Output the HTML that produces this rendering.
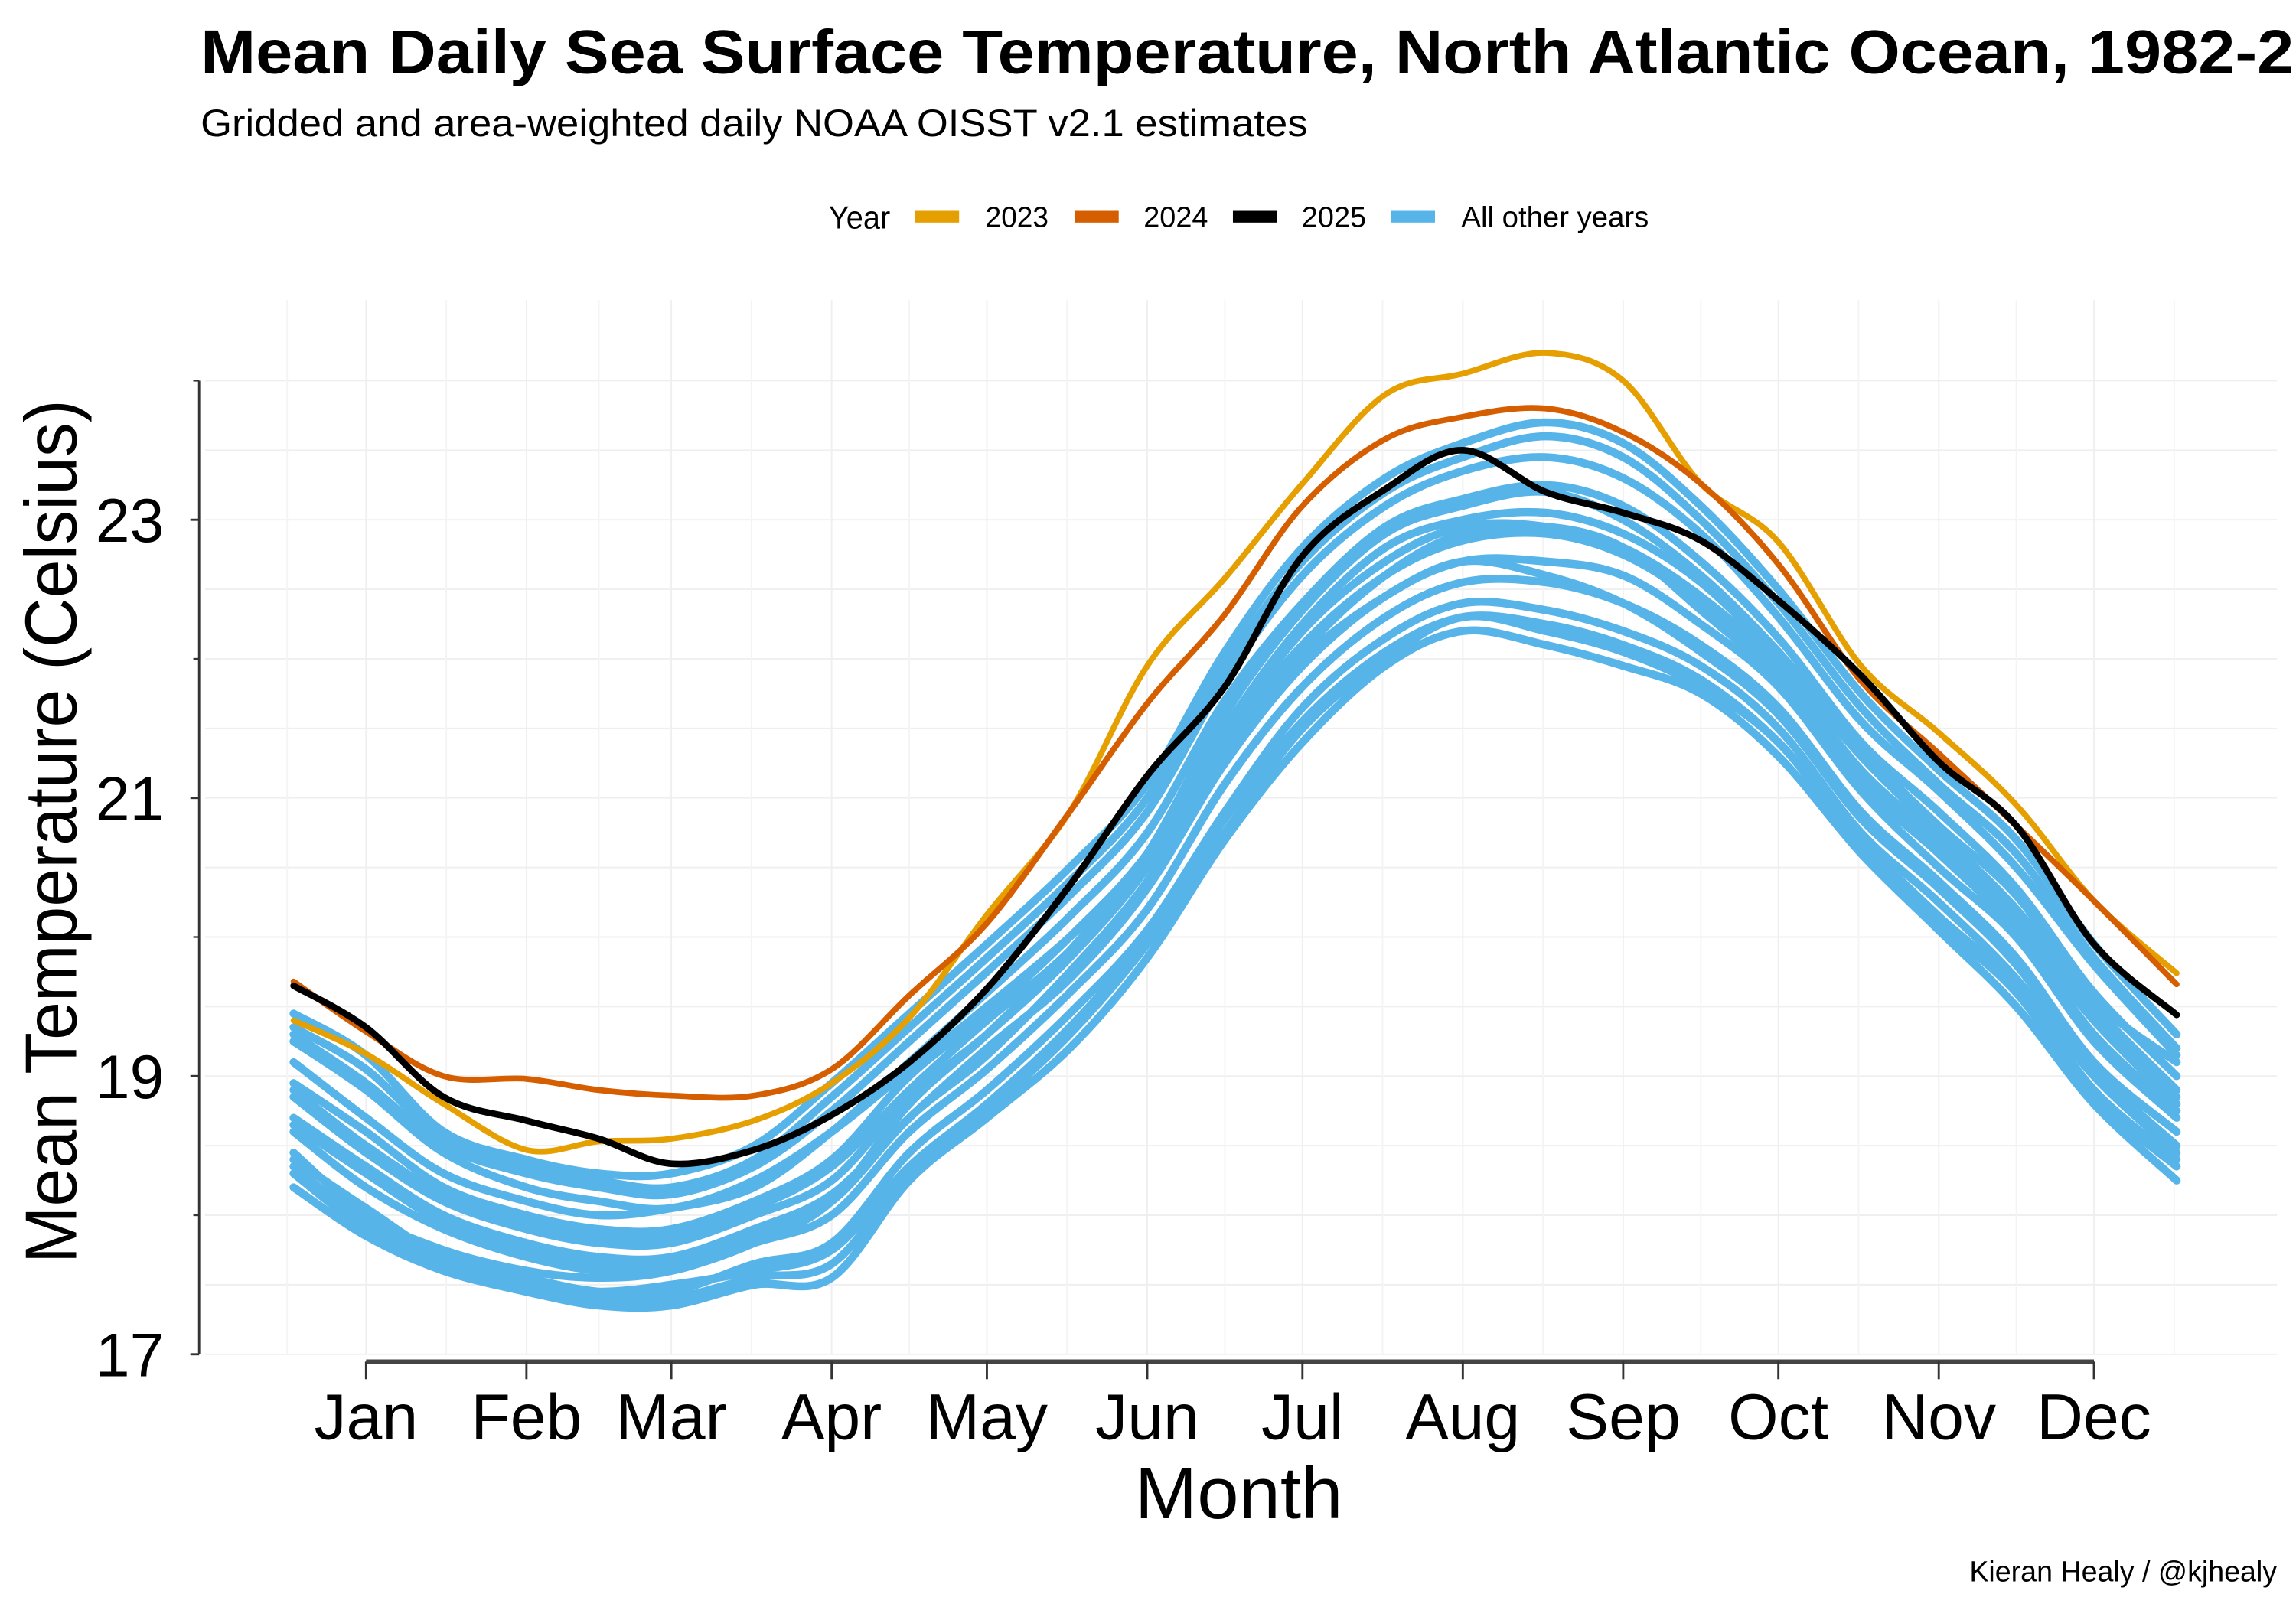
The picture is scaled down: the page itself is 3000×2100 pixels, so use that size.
<!DOCTYPE html>
<html><head><meta charset="utf-8">
<style>
html,body{margin:0;padding:0;background:#fff;}
svg{display:block;}
text{font-family:"Liberation Sans Narrow","Liberation Sans",sans-serif;fill:#000;}
</style></head>
<body>
<svg id="chart" width="3000" height="2100" viewBox="0 0 1568 1097.6" xmlns="http://www.w3.org/2000/svg">
  <rect x="0" y="0" width="1568" height="1098" fill="#fff"/>
  <text x="137" y="50" font-size="42" font-weight="bold" textLength="1505" lengthAdjust="spacingAndGlyphs">Mean Daily Sea Surface Temperature, North Atlantic Ocean, 1982-2025</text>
  <text x="137" y="93" font-size="26" textLength="756" lengthAdjust="spacingAndGlyphs">Gridded and area-weighted daily NOAA OISST v2.1 estimates</text>
  <g>
    <text x="566" y="156" font-size="22" textLength="42" lengthAdjust="spacingAndGlyphs">Year</text>
    <rect x="625" y="144" width="30" height="8" fill="#E69F00"/>
    <text x="673" y="155" font-size="20" textLength="43" lengthAdjust="spacingAndGlyphs">2023</text>
    <rect x="734" y="144" width="30" height="8" fill="#D55E00"/>
    <text x="781" y="155" font-size="20" textLength="44" lengthAdjust="spacingAndGlyphs">2024</text>
    <rect x="842" y="144" width="30" height="8" fill="#000"/>
    <text x="889" y="155" font-size="20" textLength="44" lengthAdjust="spacingAndGlyphs">2025</text>
    <rect x="950" y="144" width="30" height="8" fill="#56B4E9"/>
    <text x="998" y="155" font-size="20" textLength="128" lengthAdjust="spacingAndGlyphs">All other years</text>
  </g>
  <g id="grid"></g>
  <g id="series"></g>
  <g id="axes"></g>
  <text x="846" y="1037" font-size="50" text-anchor="middle" textLength="142" lengthAdjust="spacingAndGlyphs">Month</text>
  <text transform="translate(52,568) rotate(-90)" font-size="50" text-anchor="middle" textLength="590" lengthAdjust="spacingAndGlyphs">Mean Temperature (Celsius)</text>
  <text x="1555" y="1080" font-size="20" text-anchor="end" textLength="210" lengthAdjust="spacingAndGlyphs">Kieran Healy / @kjhealy</text>
</svg>
<script>
const days = [1,15,30,46,60,74,90,105,120,135,151,166,181,196,212,227,243,258,273,288,304,319,334,349,365];
const monthLabels = ["Jan","Feb","Mar","Apr","May","Jun","Jul","Aug","Sep","Oct","Nov","Dec"];
const monthTickDays = [15,46,74,105,135,166,196,227,258,288,319,349];
const yTicks = [17,19,21,23];
const yMinorTicks = [18,20,22,24];
const y2023 = [19.4,19.16,18.8,18.47,18.53,18.55,18.68,18.95,19.42,20.16,20.9,21.95,22.58,23.26,23.9,24.05,24.2,24.0,23.26,22.84,21.95,21.47,20.95,20.26,19.74];
const y2024 = [19.68,19.32,19.0,18.98,18.9,18.86,18.86,19.05,19.58,20.1,20.9,21.68,22.32,23.1,23.58,23.74,23.8,23.63,23.26,22.68,21.84,21.32,20.8,20.26,19.66];
const y2025 = [19.65,19.35,18.85,18.68,18.55,18.37,18.47,18.72,19.1,19.63,20.37,21.16,21.8,22.74,23.22,23.5,23.2,23.05,22.85,22.42,21.88,21.26,20.8,19.95,19.44];
const other1 = [19.35,19.05,18.55,18.35,18.25,18.2,18.4,18.85,19.35,19.85,20.4,21.0,21.95,22.7,23.2,23.45,23.6,23.45,23.0,22.4,21.65,21.1,20.6,19.85,19.2];
const other2 = [18.3,17.9,17.65,17.5,17.4,17.4,17.55,17.65,18.3,18.75,19.3,19.95,20.75,21.5,22.0,22.3,22.2,22.05,21.8,21.4,20.65,20.1,19.6,18.85,18.35];
const other3 = [18.85,18.45,18.1,17.9,17.8,17.8,18.0,18.25,18.85,19.3,19.85,20.5,21.4,22.1,22.6,22.85,22.9,22.75,22.4,21.9,21.15,20.65,20.1,19.4,18.8];
const other4 = [19.1,18.7,18.3,18.1,18.0,18.05,18.2,18.6,19.1,19.6,20.15,20.75,21.7,22.4,22.95,23.15,23.25,23.1,22.7,22.15,21.4,20.9,20.35,19.6,19.0];
const other5 = [18.6,18.2,17.9,17.7,17.6,17.6,17.8,18.0,18.6,19.05,19.6,20.2,21.1,21.8,22.3,22.55,22.55,22.4,22.1,21.65,20.9,20.4,19.85,19.1,18.6];
const other6 = [18.45,18.0,17.75,17.6,17.55,17.6,17.8,18.1,18.8,19.3,19.9,20.6,21.6,22.35,22.9,23.1,23.2,23.0,22.6,22.05,21.35,20.8,20.3,19.55,19.1];
const other7 = [19.25,18.9,18.45,18.2,18.1,18.05,18.25,18.6,19.05,19.5,20.0,20.55,21.35,22.0,22.45,22.7,22.6,22.4,22.05,21.6,20.85,20.35,19.8,19.05,18.5];
const other8 = [18.95,18.6,18.2,18.0,17.9,17.9,18.1,18.4,19.0,19.45,20.0,20.6,21.5,22.25,22.8,23.0,23.05,22.9,22.55,22.0,21.3,20.75,20.2,19.5,18.9];
const other9 = [18.7,18.35,18.0,17.8,17.7,17.7,17.9,18.15,18.7,19.2,19.7,20.35,21.25,21.95,22.45,22.7,22.7,22.6,22.25,21.8,21.05,20.5,20.0,19.25,18.7];
const other10 = [18.4,18.05,17.7,17.55,17.45,17.45,17.65,17.8,18.45,18.9,19.45,20.05,20.9,21.65,22.15,22.4,22.35,22.2,21.95,21.5,20.75,20.25,19.7,19.0,18.45];
const other11 = [19.45,19.15,18.6,18.4,18.3,18.3,18.5,18.95,19.45,19.95,20.5,21.1,22.05,22.8,23.3,23.55,23.7,23.55,23.1,22.5,21.75,21.2,20.7,19.95,19.3];
const other12 = [18.9,18.5,18.15,17.95,17.85,17.85,18.05,18.35,18.9,19.4,19.9,20.55,21.45,22.2,22.7,22.95,22.95,22.8,22.45,21.95,21.2,20.7,20.15,19.45,18.85];
const other13 = [18.2,17.85,17.6,17.45,17.35,17.35,17.5,17.55,18.25,18.7,19.2,19.85,20.7,21.4,21.95,22.2,22.1,21.95,21.75,21.3,20.6,20.05,19.5,18.8,18.25];
const other14 = [19.3,18.95,18.5,18.3,18.2,18.15,18.35,18.75,19.25,19.75,20.3,20.9,21.85,22.6,23.1,23.35,23.45,23.3,22.9,22.3,21.55,21.05,20.5,19.8,19.15];
const other15 = [18.65,18.3,17.95,17.75,17.65,17.65,17.85,18.1,18.7,19.15,19.75,20.4,21.3,22.05,22.6,22.9,22.95,22.8,22.35,21.85,21.1,20.6,20.05,19.3,18.75];
const other16 = [18.35,17.95,17.7,17.5,17.45,17.5,17.6,17.75,18.35,18.8,19.35,20.0,20.85,21.55,22.05,22.3,22.25,22.1,21.85,21.4,20.7,20.15,19.65,18.9,18.4];
const otherYears = [other1,other2,other3,other4,other5,other6,other7,other8,other9,other10,other11,other12,other13,other14,other15,other16];

const NS = "http://www.w3.org/2000/svg";
function xScale(d){ return 250 + (d - 15) * 3.533; }
function yScale(t){ return 925 - (t - 17) * 95; }
function mk(tag, attrs, parent){
  const e = document.createElementNS(NS, tag);
  for (const k in attrs) e.setAttribute(k, attrs[k]);
  parent.appendChild(e);
  return e;
}
function pathFor(vals){
  const pts = vals.map((v,i)=>[xScale(days[i]), yScale(v)]);
  let d = "M" + pts[0][0].toFixed(1) + "," + pts[0][1].toFixed(1);
  for (let i=0;i<pts.length-1;i++){
    const p0 = pts[Math.max(0,i-1)], p1 = pts[i], p2 = pts[i+1], p3 = pts[Math.min(pts.length-1,i+2)];
    const c1x = p1[0] + (p2[0]-p0[0])/6, c1y = p1[1] + (p2[1]-p0[1])/6;
    const c2x = p2[0] - (p3[0]-p1[0])/6, c2y = p2[1] - (p3[1]-p1[1])/6;
    d += " C" + c1x.toFixed(1)+","+c1y.toFixed(1)+" "+c2x.toFixed(1)+","+c2y.toFixed(1)+" "+p2[0].toFixed(1)+","+p2[1].toFixed(1);
  }
  return d;
}
const grid = document.getElementById("grid");
const series = document.getElementById("series");
const axes = document.getElementById("axes");

for (let t=17; t<=24.01; t+=0.5){
  const g = mk("line",{x1:140,x2:1555,y1:yScale(t),y2:yScale(t),stroke:"#efefef","stroke-width":1},grid);
  
  
}
for (let i=0;i<12;i++){
  const dm = monthTickDays[i];
  const g = mk("line",{x1:xScale(dm),x2:xScale(dm),y1:205,y2:925,stroke:"#efefef","stroke-width":1},grid);
  
  
}
for (let i=0;i<13;i++){
  const a = i===0 ? -15.5 : monthTickDays[i-1];
  const b = i===12 ? 380 : monthTickDays[i];
  const mid = (a+b)/2;
  const g = mk("line",{x1:xScale(mid),x2:xScale(mid),y1:205,y2:925,stroke:"#f4f4f4","stroke-width":1},grid);
  
  
}

otherYears.forEach((vals)=>{
  const p = mk("path",{d:pathFor(vals),fill:"none",stroke:"#56B4E9","stroke-width":5.5,"stroke-linejoin":"round","stroke-linecap":"round"},series);
  
  
});
const main = [[y2023,"#E69F00","line-2023"],[y2024,"#D55E00","line-2024"],[y2025,"#000000","line-2025"]];
main.forEach(([vals,col,name])=>{
  const p = mk("path",{d:pathFor(vals),fill:"none",stroke:col,"stroke-width":name==="line-2025"?4.5:4,"stroke-linejoin":"round","stroke-linecap":"round"},series);
  
  
});

const ya = mk("line",{x1:136,x2:136,y1:yScale(24),y2:yScale(17),stroke:"#333","stroke-width":1.5},axes);


yTicks.forEach(t=>{
  const tk = mk("line",{x1:130,x2:136,y1:yScale(t),y2:yScale(t),stroke:"#333","stroke-width":1.5},axes);
  
  
  const tx = mk("text",{x:112,y:yScale(t)+15,"font-size":42,"text-anchor":"end"},axes);
  tx.textContent = String(t);
  
  
});
yMinorTicks.forEach(t=>{
  const tk = mk("line",{x1:132,x2:136,y1:yScale(t),y2:yScale(t),stroke:"#333","stroke-width":1.2},axes);
  
  
});

const xa = mk("line",{x1:xScale(15),x2:xScale(349),y1:930,y2:930,stroke:"#444","stroke-width":3},axes);


monthLabels.forEach((m,i)=>{
  const x = xScale(monthTickDays[i]);
  const tk = mk("line",{x1:x,x2:x,y1:930,y2:942,stroke:"#333","stroke-width":1.5},axes);
  
  
  const tx = mk("text",{x:x,y:983,"font-size":44,"text-anchor":"middle"},axes);
  tx.textContent = m;
  
  
});
</script>
</body></html>
